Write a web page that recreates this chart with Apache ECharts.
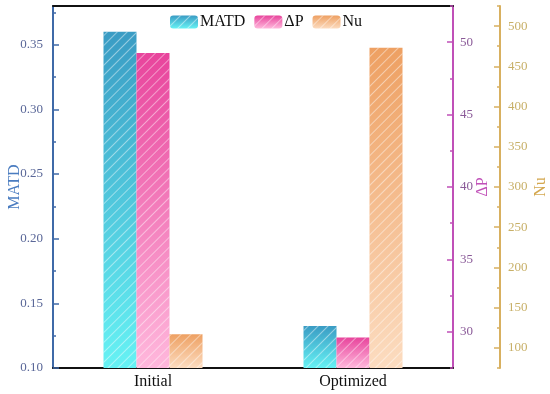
<!DOCTYPE html>
<html><head><meta charset="utf-8">
<script src="https://cdn.jsdelivr.net/npm/echarts@6/dist/echarts.min.js"></script>
<style>html,body{margin:0;padding:0;background:#fff}#c{width:550px;height:394px}</style>
</head><body><div id="c"></div>
<script>
var categories = ['Initial', 'Optimized'];
var matd = [0.360, 0.1325];
var dP = [49.25, 29.6];
var nu = [117, 473];
var matdRange = [0.10, 0.38];
var matdLabels = [0.10, 0.15, 0.20, 0.25, 0.30, 0.35];
var matdMinor = [0.125, 0.175, 0.225, 0.275, 0.325, 0.375];
var dpRange = [27.5, 52.5];
var dpLabels = [30, 35, 40, 45, 50];
var dpMinor = [27.5, 32.5, 37.5, 42.5, 47.5, 52.5];
var nuRange = [75, 525];
var nuLabels = [100, 150, 200, 250, 300, 350, 400, 450, 500];
var nuMinor = [75, 125, 175, 225, 275, 325, 375, 425, 475, 525];

var FONT = '"Liberation Serif", "DejaVu Serif", serif';
function grad(top, bottom) {
  return {type:'linear', x:0, y:0, x2:0, y2:1, colorStops:[{offset:0,color:top},{offset:1,color:bottom}]};
}
var decal = {symbol:'rect', symbolSize:1, dashArrayX:[[1,0]], dashArrayY:[1,6], rotation:-Math.PI/4, color:'rgba(255,255,255,0.45)'};

function mainAxis(range, labels, pos, offset, color, labelColor, margin, name, nameColor, nameGap, dec) {
  return {type:'value', min:range[0], max:range[1], position:pos, offset:offset,
    name:name, nameLocation:'middle', nameGap:nameGap, nameRotate:90, nameMoveOverlap:false,
    nameTextStyle:{fontFamily:FONT, fontSize:16, color:nameColor},
    axisLine:{show:true, lineStyle:{color:color, width:2}},
    axisTick:{show:true, inside:true, length:6, customValues:labels, lineStyle:{color:color, width:1.5}},
    splitLine:{show:false},
    axisLabel:{fontFamily:FONT, fontSize:13, color:labelColor, margin:margin, customValues:labels,
      formatter:function(v){return dec ? v.toFixed(dec) : String(v);}}};
}
function minorAxis(range, ticks, pos, offset, color) {
  return {type:'value', min:range[0], max:range[1], position:pos, offset:offset,
    axisLine:{show:false}, splitLine:{show:false}, axisLabel:{show:false},
    axisTick:{show:true, inside:true, length:3, customValues:ticks, lineStyle:{color:color, width:1.5}}};
}

var chart = echarts.init(document.getElementById('c'));
chart.setOption({
  animation:false,
  legend:{top:9, left:165, itemWidth:28, itemHeight:13, itemGap:9,
    textStyle:{fontFamily:FONT, fontSize:16, color:'#111', padding:[0,0,0,-3]},
    data:['MATD','ΔP','Nu']},
  grid:{left:53, right:97, top:6, bottom:26, containLabel:false, outerBoundsMode:'none'},
  xAxis:[{type:'category', data:categories,
    axisLine:{lineStyle:{color:'#111', width:2}},
    axisTick:{alignWithLabel:true, inside:true, length:4, lineStyle:{color:'#111'}},
    axisLabel:{fontFamily:FONT, fontSize:16, color:'#111', margin:6}},
    {type:'category', position:'top', data:categories,
    axisLine:{show:true, lineStyle:{color:'#111', width:2}},
    axisTick:{show:false}, axisLabel:{show:false}}],
  yAxis:[
    mainAxis(matdRange, matdLabels, 'left', 0, '#3f6aa8', '#5a6798', 10, 'MATD', '#4a7cc0', 30, 2),
    mainAxis(dpRange, dpLabels, 'right', 0, '#c050b8', '#8a5a98', 7, 'ΔP', '#c050b8', 22, 0),
    mainAxis(nuRange, nuLabels, 'right', 47, '#d8b060', '#c8b068', 8, 'Nu', '#d4a850', 33, 0),
    minorAxis(matdRange, matdMinor, 'left', 0, '#3f6aa8'),
    minorAxis(dpRange, dpMinor, 'right', 0, '#c050b8'),
    minorAxis(nuRange, nuMinor, 'right', 47, '#d8b060')
  ],
  series:[
    {name:'MATD', type:'bar', yAxisIndex:0, data:matd, barWidth:33, barGap:'0%',
     itemStyle:{color:grad('#3a9cc4','#66f2f4'), decal:decal}},
    {name:'ΔP', type:'bar', yAxisIndex:1, data:dP, barWidth:33, barGap:'0%',
     itemStyle:{color:grad('#e8449c','#ffb8dc'), decal:decal}},
    {name:'Nu', type:'bar', yAxisIndex:2, data:nu, barWidth:33, barGap:'0%',
     itemStyle:{color:grad('#eea062','#fcdcc0'), decal:decal}}
  ]
});
</script></body></html>
